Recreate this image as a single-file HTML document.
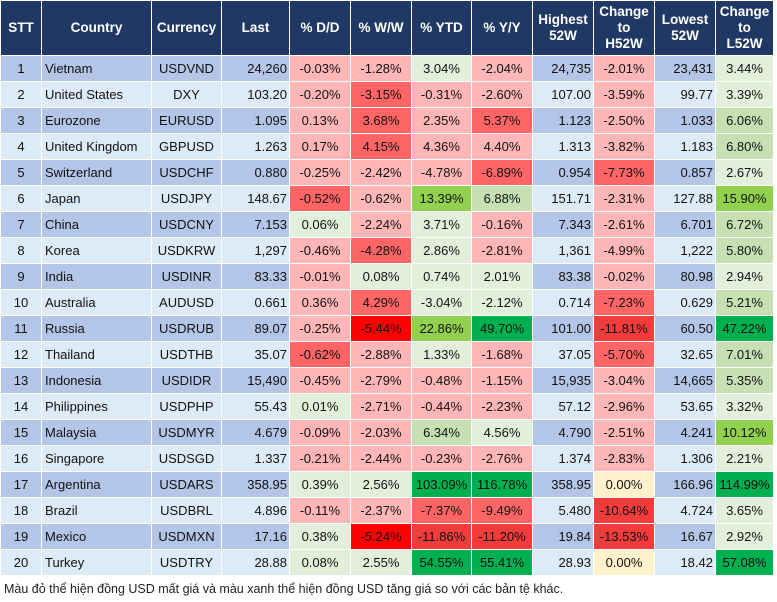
<!DOCTYPE html>
<html><head><meta charset="utf-8">
<style>
body{margin:0;background:#fff;width:777px;height:602px;overflow:hidden;font-family:"Liberation Sans",Arial,sans-serif;}
table{position:absolute;left:0;top:0;border-collapse:collapse;table-layout:fixed;width:773px;font-size:13px;color:#111;}
td,th{border:1px solid #fff;padding:0 2px;height:25px;white-space:nowrap;overflow:hidden;}
th{background:#1f3864;color:#fff;font-weight:bold;height:54px;font-size:13.5px;line-height:16px;}
tr.o td{background:#b4c6e7}
tr.e td{background:#ddebf7}
td.c{text-align:center}
td.l{text-align:left;padding-left:3px}
td.r{text-align:right;padding-right:2px}
tr td.p{background:#ffb6b6}
tr td.r1{background:#ff6565}
tr td.rr{background:#ff0000}
tr td.r2{background:#f23c3c}
tr td.g{background:#e2efda}
tr td.G{background:#c6e0b4}
tr td.L{background:#92d050}
tr td.D{background:#00b050}
tr td.y{background:#fff2cc}
#note{position:absolute;left:4px;top:582px;font-size:12.5px;color:#222;}
</style></head><body>
<table id="fx">
<colgroup><col style="width:41px"><col style="width:110px"><col style="width:70px"><col style="width:68px"><col style="width:61px"><col style="width:61px"><col style="width:60px"><col style="width:61px"><col style="width:61px"><col style="width:61px"><col style="width:61px"><col style="width:58px"></colgroup>
<thead><tr>
<th>STT</th>
<th>Country</th>
<th>Currency</th>
<th>Last</th>
<th>% D/D</th>
<th>% W/W</th>
<th>% YTD</th>
<th>% Y/Y</th>
<th>Highest<br>52W</th>
<th>Change<br>to<br>H52W</th>
<th>Lowest<br>52W</th>
<th>Change<br>to<br>L52W</th>
</tr></thead>
<tbody id="tb"></tbody>
</table>
<div id="note">Màu đỏ thể hiện đồng USD mất giá và màu xanh thể hiện đồng USD tăng giá so với các bản tệ khác.</div>
<script>
const countries=["Vietnam","United States","Eurozone","United Kingdom","Switzerland","Japan","China","Korea","India","Australia","Russia","Thailand","Indonesia","Philippines","Malaysia","Singapore","Argentina","Brazil","Mexico","Turkey"];
const currencies=["USDVND","DXY","EURUSD","GBPUSD","USDCHF","USDJPY","USDCNY","USDKRW","USDINR","AUDUSD","USDRUB","USDTHB","USDIDR","USDPHP","USDMYR","USDSGD","USDARS","USDBRL","USDMXN","USDTRY"];
const lastVals=["24,260","103.20","1.095","1.263","0.880","148.67","7.153","1,297","83.33","0.661","89.07","35.07","15,490","55.43","4.679","1.337","358.95","4.896","17.16","28.88"];
const dd=["-0.03%","-0.20%","0.13%","0.17%","-0.25%","-0.52%","0.06%","-0.46%","-0.01%","0.36%","-0.25%","-0.62%","-0.45%","0.01%","-0.09%","-0.21%","0.39%","-0.11%","0.38%","0.08%"];
const ww=["-1.28%","-3.15%","3.68%","4.15%","-2.42%","-0.62%","-2.24%","-4.28%","0.08%","4.29%","-5.44%","-2.88%","-2.79%","-2.71%","-2.03%","-2.44%","2.56%","-2.37%","-5.24%","2.55%"];
const ytd=["3.04%","-0.31%","2.35%","4.36%","-4.78%","13.39%","3.71%","2.86%","0.74%","-3.04%","22.86%","1.33%","-0.48%","-0.44%","6.34%","-0.23%","103.09%","-7.37%","-11.86%","54.55%"];
const yy=["-2.04%","-2.60%","5.37%","4.40%","-6.89%","6.88%","-0.16%","-2.81%","2.01%","-2.12%","49.70%","-1.68%","-1.15%","-2.23%","4.56%","-2.76%","116.78%","-9.49%","-11.20%","55.41%"];
const high52=["24,735","107.00","1.123","1.313","0.954","151.71","7.343","1,361","83.38","0.714","101.00","37.05","15,935","57.12","4.790","1.374","358.95","5.480","19.84","28.93"];
const chgH=["-2.01%","-3.59%","-2.50%","-3.82%","-7.73%","-2.31%","-2.61%","-4.99%","-0.02%","-7.23%","-11.81%","-5.70%","-3.04%","-2.96%","-2.51%","-2.83%","0.00%","-10.64%","-13.53%","0.00%"];
const low52=["23,431","99.77","1.033","1.183","0.857","127.88","6.701","1,222","80.98","0.629","60.50","32.65","14,665","53.65","4.241","1.306","166.96","4.724","16.67","18.42"];
const chgL=["3.44%","3.39%","6.06%","6.80%","2.67%","15.90%","6.72%","5.80%","2.94%","5.21%","47.22%","7.01%","5.35%","3.32%","10.12%","2.21%","114.99%","3.65%","2.92%","57.08%"];
// colour codes per cell: dd ww ytd yy chgH chgL
const colorCodes=["p p g p p g","p r1 p p p g","p r1 p r1 p G","p r1 p p p G","p p p r1 r1 g","r1 p L G p L","g p g p p G","p r1 g p p G","p g g g p g","p r1 g g r1 G","p rr L D r2 D","r1 p g p r1 G","p p p p p G","g p p p p g","p p G g p L","p p p p p g","g g D D y D","p p r1 r1 r2 g","g rr r2 r2 r2 g","g g D D y D"];
const tb=document.getElementById('tb');
function cell(tr,txt,cls,name){const td=document.createElement('td');td.textContent=txt;td.className=cls;


tr.appendChild(td);}
countries.forEach((c,i)=>{
 const tr=document.createElement('tr');tr.className=(i%2===0)?'o':'e';
 
 
 const cc=colorCodes[i].split(' ');
 cell(tr,String(i+1),'c','stt-cell');
 cell(tr,c,'l','country-cell');
 cell(tr,currencies[i],'c','currency-cell');
 cell(tr,lastVals[i],'r','last-cell');
 cell(tr,dd[i],'c '+cc[0],'dd-cell');
 cell(tr,ww[i],'c '+cc[1],'ww-cell');
 cell(tr,ytd[i],'c '+cc[2],'ytd-cell');
 cell(tr,yy[i],'c '+cc[3],'yy-cell');
 cell(tr,high52[i],'r','highest-52w-cell');
 cell(tr,chgH[i],'c '+cc[4],'change-h52w-cell');
 cell(tr,low52[i],'r','lowest-52w-cell');
 cell(tr,chgL[i],'c '+cc[5],'change-l52w-cell');
 tb.appendChild(tr);
});
</script>
</body></html>
